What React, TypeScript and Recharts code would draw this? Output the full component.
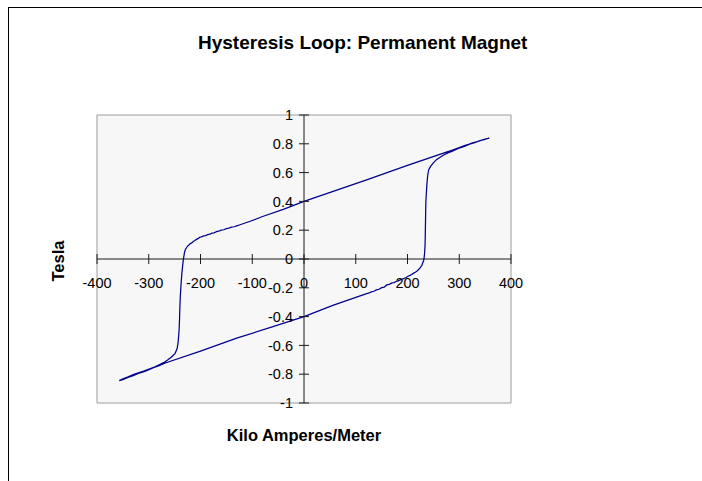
import { LineChart, Line, XAxis, YAxis, ReferenceArea, ReferenceLine, ReferenceDot } from "recharts";

// magnetising field H (kA/m) and flux density B (T), traced round the loop
const hValues = [
  358, 350, 342, 335, 326, 318, 310, 300, 292, 283, 275, 268,
  200, 121, 0, -40, -80, -104, -125,
  -130, -135, -140, -145, -150, -155, -160, -165, -169, -174, -178, -182, -186, -190, -194, -198, -201, -204, -207, -211, -214, -217, -220, -223, -225, -227, -229, -231, -232,
  -233, -234, -236, -237.5, -239, -240, -240.5, -241.5, -243, -245, -249, -256, -263, -269,
  -278, -288, -298, -310, -320, -330, -340, -350, -357,
  -350, -340, -330, -318, -305, -292, -280, -268,
  -200, -130, -60, 0, 57, 121,
  126, 130, 135, 140, 145, 150, 155, 160, 165, 170, 174, 178, 182, 186, 190, 194, 198, 201, 205, 208, 212, 215, 218, 221, 224, 226, 228, 229, 231, 232,
  233, 234, 234.5, 235, 235.5, 236.5, 237.5, 239, 241, 245, 250, 256, 263, 269,
  278, 288, 298, 310, 320, 330, 340, 350, 358,
];
const bValues = [
  0.84, 0.832, 0.824, 0.815, 0.806, 0.797, 0.788, 0.774, 0.764, 0.752, 0.742, 0.733,
  0.65, 0.549, 0.4, 0.345, 0.295, 0.262, 0.236,
  0.23, 0.224, 0.221, 0.214, 0.211, 0.203, 0.2, 0.193, 0.19, 0.182, 0.18, 0.172, 0.169, 0.163, 0.161, 0.154, 0.152, 0.143, 0.138, 0.128, 0.122, 0.112, 0.106, 0.096, 0.09, 0.078, 0.068, 0.045, 0.02,
  0, -0.03, -0.1, -0.17, -0.26, -0.35, -0.42, -0.5, -0.57, -0.62, -0.655, -0.68, -0.7, -0.715,
  -0.732, -0.748, -0.762, -0.778, -0.79, -0.803, -0.818, -0.832, -0.845,
  -0.838, -0.822, -0.81, -0.792, -0.777, -0.757, -0.74, -0.722,
  -0.64, -0.55, -0.47, -0.4, -0.32, -0.24,
  -0.236, -0.228, -0.224, -0.215, -0.21, -0.199, -0.196, -0.18, -0.176, -0.166, -0.164, -0.156, -0.152, -0.145, -0.14, -0.134, -0.127, -0.12, -0.114, -0.108, -0.098, -0.092, -0.085, -0.075, -0.064, -0.052, -0.043, -0.03, -0.014, 0.005,
  0.04, 0.1, 0.2, 0.3, 0.4, 0.46, 0.52, 0.58, 0.62, 0.645, 0.668, 0.69, 0.707, 0.72,
  0.737, 0.75, 0.768, 0.782, 0.797, 0.808, 0.822, 0.83, 0.842,
];

const hTicks = [-400, -300, -200, -100, 0, 100, 200, 300, 400];
const bTicks = [-1, -0.8, -0.6, -0.4, -0.2, 0, 0.2, 0.4, 0.6, 0.8, 1];

const data = hValues.map((h, i) => ({ h, b: bValues[i] }));

const FONT = "'Liberation Sans', Arial, sans-serif";
const AXIS = "#1a1a1a";

const HTick = (props: any) => {
  const { cx, cy, value } = props;
  return (
    <g>
      <line x1={cx} y1={cy - 5} x2={cx} y2={cy + 5} stroke={AXIS} />
      <text x={cx} y={cy + 28.5} textAnchor="middle" fontFamily={FONT} fontSize={14.5} fill="#000">{value}</text>
    </g>
  );
};

const BTick = (props: any) => {
  const { cx, cy, value } = props;
  return (
    <g>
      <line x1={cx - 5} y1={cy} x2={cx + 5} y2={cy} stroke={AXIS} />
      <text x={cx - 11} y={cy + 5.2} textAnchor="end" fontFamily={FONT} fontSize={14.5} fill="#000">{value}</text>
    </g>
  );
};

export default function App() {
  return (
    <div style={{ position: "fixed", left: 8, top: 7, width: 694, height: 474, borderTop: "1px solid #000", borderLeft: "1px solid #000", background: "#fff" }}>
      <LineChart width={693} height={473} data={data} margin={{ top: 107, right: 191, bottom: 78, left: 88 }}>
        <XAxis type="number" dataKey="h" domain={[-400, 400]} hide allowDataOverflow />
        <YAxis type="number" dataKey="b" domain={[-1, 1]} hide allowDataOverflow />
        <ReferenceArea x1={-400} x2={400} y1={-1} y2={1} fill="#f7f7f7" fillOpacity={1} stroke="#9c9c9c" strokeWidth={1} ifOverflow="visible" />
        <ReferenceLine y={0} stroke={AXIS} ifOverflow="visible" />
        <ReferenceLine x={0} stroke={AXIS} ifOverflow="visible" />
        {hTicks.map((v) => (
          <ReferenceDot key={`h${v}`} x={v} y={0} r={1} ifOverflow="visible" shape={(p: any) => <HTick {...p} value={v} />} />
        ))}
        {bTicks.map((v) => (
          <ReferenceDot key={`b${v}`} x={0} y={v} r={1} ifOverflow="visible" shape={(p: any) => <BTick {...p} value={v} />} />
        ))}
        <Line type="linear" dataKey="b" stroke="#00008c" strokeWidth={1.25} dot={false} isAnimationActive={false} />
      </LineChart>
      <svg width={702} height={481} style={{ position: "fixed", left: 0, top: 0, pointerEvents: "none" }}>
        <text x={198} y={49} fontFamily={FONT} fontSize={19} fontWeight="bold" fill="#000">Hysteresis Loop: Permanent Magnet</text>
        <text x={304} y={440.5} textAnchor="middle" fontFamily={FONT} fontSize={16.5} fontWeight="bold" fill="#000">Kilo Amperes/Meter</text>
        <text transform="translate(64,261) rotate(-90)" textAnchor="middle" fontFamily={FONT} fontSize={16.5} fontWeight="bold" fill="#000">Tesla</text>
      </svg>
    </div>
  );
}
